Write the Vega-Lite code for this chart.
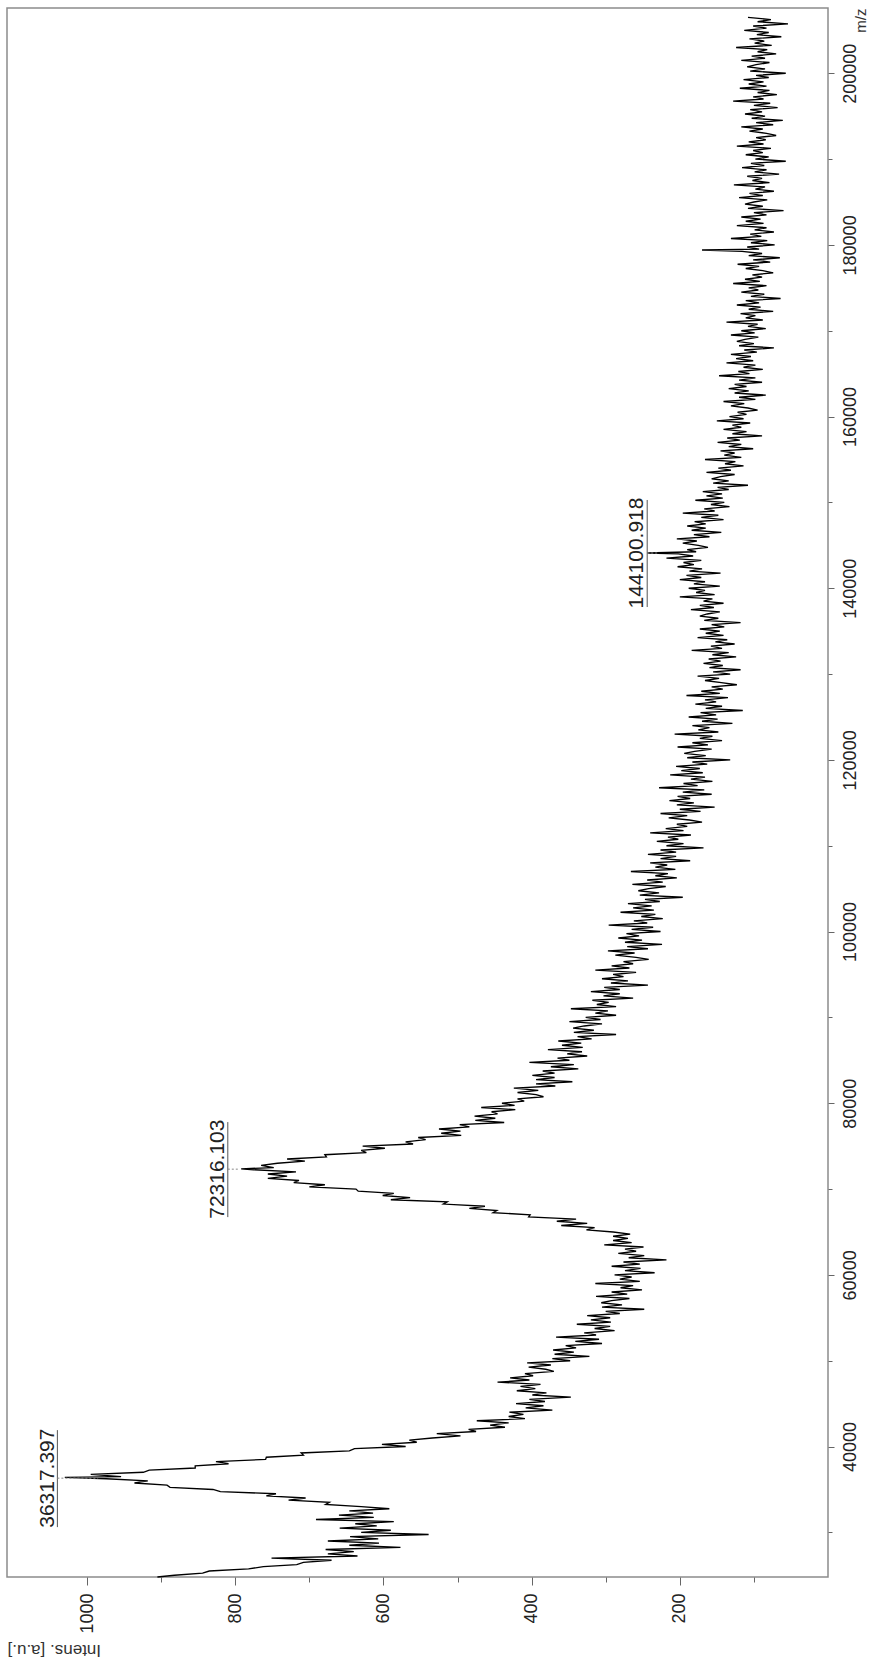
{
"$schema": "https://vega.github.io/schema/vega-lite/v6.json",
"width": 821,
"height": 1569,
"autosize": {"type": "none"},
"padding": {"left": 7, "top": 8, "right": 43, "bottom": 87},
"background": "white",
"config": {"view": {"stroke": "#8c8c8c", "strokeWidth": 1.5}, "font": "Liberation Sans"},
"datasets": {
"spec": [
{"m":24800,"i":905},{"m":25000,"i":882},{"m":25250,"i":844},{"m":25500,"i":835},{"m":25750,"i":782},{"m":26000,"i":762},{"m":26250,"i":717},{"m":26500,"i":708},{"m":26750,"i":670},{"m":27000,"i":751},{"m":27250,"i":635},{"m":27500,"i":675},{"m":27750,"i":640},{"m":28000,"i":678},{"m":28250,"i":577},{"m":28500,"i":646},{"m":28750,"i":606},{"m":29000,"i":675},{"m":29250,"i":607},{"m":29500,"i":645},{"m":29750,"i":539},{"m":30000,"i":630},{"m":30250,"i":590},{"m":30500,"i":659},{"m":30750,"i":609},{"m":31000,"i":638},{"m":31250,"i":586},{"m":31500,"i":691},{"m":31750,"i":613},{"m":32000,"i":660},{"m":32250,"i":614},{"m":32500,"i":646},{"m":32750,"i":592},
{"m":33000,"i":630},{"m":33250,"i":678},{"m":33500,"i":673},{"m":33750,"i":728},{"m":34000,"i":705},{"m":34250,"i":758},{"m":34500,"i":745},{"m":34750,"i":820},{"m":35000,"i":830},{"m":35250,"i":888},{"m":35500,"i":892},{"m":35750,"i":936},{"m":36000,"i":918},{"m":36250,"i":974},{"m":36400,"i":1030},{"m":36500,"i":954},{"m":36750,"i":995},{"m":37000,"i":924},{"m":37250,"i":916},{"m":37500,"i":854},{"m":37750,"i":854},{"m":38000,"i":809},{"m":38250,"i":826},{"m":38500,"i":759},{"m":38750,"i":758},{"m":39000,"i":708},{"m":39250,"i":711},{"m":39500,"i":646},{"m":39750,"i":639},{"m":40000,"i":570},{"m":40250,"i":602},{"m":40500,"i":555},{"m":40750,"i":565},
{"m":41000,"i":534},{"m":41250,"i":496},{"m":41500,"i":528},{"m":41750,"i":475},{"m":42000,"i":485},{"m":42250,"i":436},{"m":42500,"i":456},{"m":42750,"i":431},{"m":43000,"i":474},{"m":43250,"i":409},{"m":43500,"i":431},{"m":43750,"i":411},{"m":44000,"i":430},{"m":44250,"i":372},{"m":44500,"i":408},{"m":44750,"i":384},{"m":45000,"i":421},{"m":45250,"i":382},{"m":45500,"i":403},{"m":45750,"i":347},{"m":46000,"i":399},{"m":46250,"i":380},{"m":46500,"i":420},{"m":46750,"i":395},{"m":47000,"i":415},{"m":47250,"i":388},{"m":47500,"i":446},{"m":47750,"i":403},{"m":48000,"i":429},{"m":48250,"i":398},{"m":48500,"i":409},{"m":48750,"i":370},
{"m":49000,"i":381},{"m":49250,"i":404},{"m":49500,"i":374},{"m":49750,"i":406},{"m":50000,"i":348},{"m":50250,"i":372},{"m":50500,"i":322},{"m":50750,"i":369},{"m":51000,"i":343},{"m":51250,"i":371},{"m":51500,"i":340},{"m":51750,"i":354},{"m":52000,"i":305},{"m":52250,"i":341},{"m":52500,"i":309},{"m":52750,"i":367},{"m":53000,"i":313},{"m":53250,"i":329},{"m":53500,"i":288},{"m":53750,"i":315},{"m":54000,"i":294},{"m":54250,"i":339},{"m":54500,"i":293},{"m":54750,"i":320},{"m":55000,"i":294},{"m":55250,"i":325},{"m":55500,"i":281},{"m":55750,"i":300},{"m":56000,"i":248},{"m":56250,"i":305},{"m":56500,"i":278},{"m":56750,"i":306},
{"m":57000,"i":292},{"m":57250,"i":268},{"m":57500,"i":313},{"m":57750,"i":271},{"m":58000,"i":292},{"m":58250,"i":251},{"m":58500,"i":280},{"m":58750,"i":263},{"m":59000,"i":314},{"m":59250,"i":254},{"m":59500,"i":281},{"m":59750,"i":265},{"m":60000,"i":288},{"m":60250,"i":234},{"m":60500,"i":274},{"m":60750,"i":253},{"m":61000,"i":292},{"m":61250,"i":254},{"m":61500,"i":276},{"m":61750,"i":218},{"m":62000,"i":269},{"m":62250,"i":248},{"m":62500,"i":283},{"m":62750,"i":259},{"m":63000,"i":274},{"m":63250,"i":249},{"m":63500,"i":302},{"m":63750,"i":265},{"m":64000,"i":290},{"m":64250,"i":270},{"m":64500,"i":290},{"m":64750,"i":267},
{"m":65000,"i":290},{"m":65250,"i":326},{"m":65500,"i":315},{"m":65750,"i":360},{"m":66000,"i":325},{"m":66250,"i":366},{"m":66500,"i":340},{"m":66750,"i":404},{"m":67000,"i":402},{"m":67250,"i":452},{"m":67500,"i":447},{"m":67750,"i":484},{"m":68000,"i":463},{"m":68250,"i":519},{"m":68500,"i":514},{"m":68750,"i":590},{"m":69000,"i":564},{"m":69250,"i":601},{"m":69500,"i":586},{"m":69750,"i":634},{"m":70000,"i":637},{"m":70250,"i":700},{"m":70500,"i":679},{"m":70750,"i":721},{"m":71000,"i":714},{"m":71250,"i":756},{"m":71500,"i":730},{"m":71750,"i":756},{"m":72000,"i":718},{"m":72250,"i":775},{"m":72350,"i":792},{"m":72500,"i":748},{"m":72750,"i":765},
{"m":73000,"i":743},{"m":73250,"i":706},{"m":73500,"i":730},{"m":73750,"i":677},{"m":74000,"i":679},{"m":74250,"i":623},{"m":74500,"i":630},{"m":74750,"i":598},{"m":75000,"i":628},{"m":75250,"i":560},{"m":75500,"i":570},{"m":75750,"i":543},{"m":76000,"i":553},{"m":76250,"i":495},{"m":76500,"i":522},{"m":76750,"i":496},{"m":77000,"i":525},{"m":77250,"i":484},{"m":77500,"i":497},{"m":77750,"i":437},{"m":78000,"i":476},{"m":78250,"i":449},{"m":78500,"i":477},{"m":78750,"i":446},{"m":79000,"i":454},{"m":79250,"i":422},{"m":79500,"i":468},{"m":79750,"i":423},{"m":80000,"i":440},{"m":80250,"i":410},{"m":80500,"i":419},{"m":80750,"i":384},
{"m":81000,"i":394},{"m":81250,"i":419},{"m":81500,"i":391},{"m":81750,"i":424},{"m":82000,"i":368},{"m":82250,"i":394},{"m":82500,"i":345},{"m":82750,"i":394},{"m":83000,"i":369},{"m":83250,"i":399},{"m":83500,"i":369},{"m":83750,"i":385},{"m":84000,"i":337},{"m":84250,"i":374},{"m":84500,"i":343},{"m":84750,"i":403},{"m":85000,"i":349},{"m":85250,"i":365},{"m":85500,"i":325},{"m":85750,"i":352},{"m":86000,"i":332},{"m":86250,"i":378},{"m":86500,"i":331},{"m":86750,"i":359},{"m":87000,"i":333},{"m":87250,"i":364},{"m":87500,"i":319},{"m":87750,"i":338},{"m":88000,"i":286},{"m":88250,"i":343},{"m":88500,"i":316},{"m":88750,"i":344},
{"m":89000,"i":329},{"m":89250,"i":305},{"m":89500,"i":349},{"m":89750,"i":307},{"m":90000,"i":327},{"m":90250,"i":286},{"m":90500,"i":314},{"m":90750,"i":297},{"m":91000,"i":347},{"m":91250,"i":286},{"m":91500,"i":312},{"m":91750,"i":296},{"m":92000,"i":318},{"m":92250,"i":263},{"m":92500,"i":303},{"m":92750,"i":281},{"m":93000,"i":320},{"m":93250,"i":281},{"m":93500,"i":302},{"m":93750,"i":243},{"m":94000,"i":293},{"m":94250,"i":270},{"m":94500,"i":305},{"m":94750,"i":276},{"m":95000,"i":290},{"m":95250,"i":259},{"m":95500,"i":314},{"m":95750,"i":268},{"m":96000,"i":292},{"m":96250,"i":263},{"m":96500,"i":276},{"m":96750,"i":242},
{"m":97000,"i":259},{"m":97250,"i":287},{"m":97500,"i":261},{"m":97750,"i":297},{"m":98000,"i":243},{"m":98250,"i":271},{"m":98500,"i":224},{"m":98750,"i":274},{"m":99000,"i":251},{"m":99250,"i":283},{"m":99500,"i":255},{"m":99750,"i":272},{"m":100000,"i":226},{"m":100250,"i":265},{"m":100500,"i":236},{"m":100750,"i":296},{"m":101000,"i":244},{"m":101250,"i":262},{"m":101500,"i":223},{"m":101750,"i":252},{"m":102000,"i":233},{"m":102250,"i":280},{"m":102500,"i":235},{"m":102750,"i":263},{"m":103000,"i":238},{"m":103250,"i":270},{"m":103500,"i":227},{"m":103750,"i":247},{"m":104000,"i":196},{"m":104250,"i":254},{"m":104500,"i":228},{"m":104750,"i":256},
{"m":105000,"i":242},{"m":105250,"i":219},{"m":105500,"i":264},{"m":105750,"i":223},{"m":106000,"i":244},{"m":106250,"i":204},{"m":106500,"i":233},{"m":106750,"i":216},{"m":107000,"i":266},{"m":107250,"i":206},{"m":107500,"i":233},{"m":107750,"i":217},{"m":108000,"i":240},{"m":108250,"i":186},{"m":108500,"i":226},{"m":108750,"i":205},{"m":109000,"i":243},{"m":109250,"i":205},{"m":109500,"i":226},{"m":109750,"i":168},{"m":110000,"i":218},{"m":110250,"i":195},{"m":110500,"i":231},{"m":110750,"i":202},{"m":111000,"i":216},{"m":111250,"i":185},{"m":111500,"i":240},{"m":111750,"i":195},{"m":112000,"i":219},{"m":112250,"i":190},{"m":112500,"i":204},{"m":112750,"i":170},
{"m":113000,"i":187},{"m":113250,"i":215},{"m":113500,"i":190},{"m":113750,"i":226},{"m":114000,"i":172},{"m":114250,"i":200},{"m":114500,"i":153},{"m":114750,"i":204},{"m":115000,"i":181},{"m":115250,"i":214},{"m":115500,"i":186},{"m":115750,"i":203},{"m":116000,"i":157},{"m":116250,"i":196},{"m":116500,"i":167},{"m":116750,"i":228},{"m":117000,"i":176},{"m":117250,"i":195},{"m":117500,"i":156},{"m":117750,"i":185},{"m":118000,"i":166},{"m":118250,"i":213},{"m":118500,"i":169},{"m":118750,"i":198},{"m":119000,"i":173},{"m":119250,"i":205},{"m":119500,"i":163},{"m":119750,"i":183},{"m":120000,"i":132},{"m":120250,"i":190},{"m":120500,"i":165},{"m":120750,"i":194},
{"m":121000,"i":180},{"m":121250,"i":157},{"m":121500,"i":203},{"m":121750,"i":162},{"m":122000,"i":183},{"m":122250,"i":143},{"m":122500,"i":173},{"m":122750,"i":156},{"m":123000,"i":207},{"m":123250,"i":148},{"m":123500,"i":175},{"m":123750,"i":160},{"m":124000,"i":183},{"m":124250,"i":129},{"m":124500,"i":170},{"m":124750,"i":149},{"m":125000,"i":188},{"m":125250,"i":151},{"m":125500,"i":172},{"m":125750,"i":115},{"m":126000,"i":165},{"m":126250,"i":143},{"m":126500,"i":179},{"m":126750,"i":151},{"m":127000,"i":166},{"m":127250,"i":135},{"m":127500,"i":191},{"m":127750,"i":146},{"m":128000,"i":171},{"m":128250,"i":142},{"m":128500,"i":157},{"m":128750,"i":123},
{"m":129000,"i":144},{"m":129250,"i":166},{"m":129500,"i":147},{"m":129750,"i":176},{"m":130000,"i":132},{"m":130250,"i":155},{"m":130500,"i":118},{"m":130750,"i":160},{"m":131000,"i":142},{"m":131250,"i":168},{"m":131500,"i":145},{"m":131750,"i":161},{"m":132000,"i":124},{"m":132250,"i":156},{"m":132500,"i":134},{"m":132750,"i":184},{"m":133000,"i":143},{"m":133250,"i":158},{"m":133500,"i":126},{"m":133750,"i":152},{"m":134000,"i":136},{"m":134250,"i":176},{"m":134500,"i":141},{"m":134750,"i":165},{"m":135000,"i":146},{"m":135250,"i":173},{"m":135500,"i":140},{"m":135750,"i":157},{"m":136000,"i":118},{"m":136250,"i":167},{"m":136500,"i":148},{"m":136750,"i":173},
{"m":137000,"i":163},{"m":137250,"i":146},{"m":137500,"i":185},{"m":137750,"i":154},{"m":138000,"i":173},{"m":138250,"i":141},{"m":138500,"i":168},{"m":138750,"i":156},{"m":139000,"i":200},{"m":139250,"i":153},{"m":139500,"i":178},{"m":139750,"i":166},{"m":140000,"i":188},{"m":140250,"i":146},{"m":140500,"i":181},{"m":140750,"i":166},{"m":141000,"i":200},{"m":141250,"i":171},{"m":141500,"i":191},{"m":141750,"i":145},{"m":142000,"i":187},{"m":142250,"i":170},{"m":142500,"i":203},{"m":142750,"i":181},{"m":143000,"i":195},{"m":143250,"i":171},{"m":143500,"i":218},{"m":143750,"i":182},{"m":144000,"i":202},{"m":144100,"i":244},{"m":144250,"i":178},{"m":144500,"i":190},{"m":144750,"i":162},
{"m":145000,"i":175},{"m":145250,"i":196},{"m":145500,"i":177},{"m":145750,"i":204},{"m":146000,"i":160},{"m":146250,"i":181},{"m":146500,"i":144},{"m":146750,"i":184},{"m":147000,"i":165},{"m":147250,"i":190},{"m":147500,"i":165},{"m":147750,"i":180},{"m":148000,"i":141},{"m":148250,"i":171},{"m":148500,"i":148},{"m":148750,"i":196},{"m":149000,"i":153},{"m":149250,"i":167},{"m":149500,"i":133},{"m":149750,"i":158},{"m":150000,"i":140},{"m":150250,"i":179},{"m":150500,"i":142},{"m":150750,"i":164},{"m":151000,"i":143},{"m":151250,"i":169},{"m":151500,"i":134},{"m":151750,"i":149},{"m":152000,"i":108},{"m":152250,"i":155},{"m":152500,"i":134},{"m":152750,"i":157},
{"m":153000,"i":145},{"m":153250,"i":126},{"m":153500,"i":164},{"m":153750,"i":131},{"m":154000,"i":148},{"m":154250,"i":114},{"m":154500,"i":139},{"m":154750,"i":125},{"m":155000,"i":166},{"m":155250,"i":117},{"m":155500,"i":140},{"m":155750,"i":126},{"m":156000,"i":145},{"m":156250,"i":101},{"m":156500,"i":134},{"m":156750,"i":117},{"m":157000,"i":149},{"m":157250,"i":119},{"m":157500,"i":136},{"m":157750,"i":89},{"m":158000,"i":129},{"m":158250,"i":110},{"m":158500,"i":141},{"m":158750,"i":117},{"m":159000,"i":129},{"m":159250,"i":105},{"m":159500,"i":150},{"m":159750,"i":114},{"m":160000,"i":133},{"m":160250,"i":110},{"m":160500,"i":122},{"m":160750,"i":95},
{"m":161000,"i":108},{"m":161250,"i":131},{"m":161500,"i":113},{"m":161750,"i":141},{"m":162000,"i":98},{"m":162250,"i":120},{"m":162500,"i":84},{"m":162750,"i":126},{"m":163000,"i":107},{"m":163250,"i":134},{"m":163500,"i":110},{"m":163750,"i":126},{"m":164000,"i":89},{"m":164250,"i":120},{"m":164500,"i":98},{"m":164750,"i":147},{"m":165000,"i":106},{"m":165250,"i":121},{"m":165500,"i":88},{"m":165750,"i":114},{"m":166000,"i":98},{"m":166250,"i":137},{"m":166500,"i":101},{"m":166750,"i":124},{"m":167000,"i":104},{"m":167250,"i":131},{"m":167500,"i":96},{"m":167750,"i":113},{"m":168000,"i":73},{"m":168250,"i":120},{"m":168500,"i":100},{"m":168750,"i":123},
{"m":169000,"i":112},{"m":169250,"i":94},{"m":169500,"i":131},{"m":169750,"i":99},{"m":170000,"i":117},{"m":170250,"i":84},{"m":170500,"i":108},{"m":170750,"i":95},{"m":171000,"i":137},{"m":171250,"i":88},{"m":171500,"i":111},{"m":171750,"i":98},{"m":172000,"i":118},{"m":172250,"i":74},{"m":172500,"i":107},{"m":172750,"i":91},{"m":173000,"i":123},{"m":173250,"i":93},{"m":173500,"i":111},{"m":173750,"i":64},{"m":174000,"i":104},{"m":174250,"i":86},{"m":174500,"i":117},{"m":174750,"i":94},{"m":175000,"i":107},{"m":175250,"i":83},{"m":175500,"i":128},{"m":175750,"i":92},{"m":176000,"i":112},{"m":176250,"i":89},{"m":176500,"i":102},{"m":176750,"i":74},
{"m":177000,"i":88},{"m":177250,"i":111},{"m":177500,"i":93},{"m":177750,"i":122},{"m":178000,"i":78},{"m":178250,"i":101},{"m":178500,"i":65},{"m":178750,"i":107},{"m":179000,"i":89},{"m":179250,"i":116},{"m":179400,"i":170},{"m":179500,"i":93},{"m":179750,"i":109},{"m":180000,"i":72},{"m":180250,"i":104},{"m":180500,"i":82},{"m":180750,"i":131},{"m":181000,"i":90},{"m":181250,"i":105},{"m":181500,"i":73},{"m":181750,"i":99},{"m":182000,"i":83},{"m":182250,"i":123},{"m":182500,"i":87},{"m":182750,"i":111},{"m":183000,"i":91},{"m":183250,"i":117},{"m":183500,"i":83},{"m":183750,"i":100},{"m":184000,"i":60},{"m":184250,"i":108},{"m":184500,"i":88},{"m":184750,"i":112},
{"m":185000,"i":100},{"m":185250,"i":82},{"m":185500,"i":120},{"m":185750,"i":88},{"m":186000,"i":106},{"m":186250,"i":73},{"m":186500,"i":98},{"m":186750,"i":85},{"m":187000,"i":127},{"m":187250,"i":79},{"m":187500,"i":102},{"m":187750,"i":89},{"m":188000,"i":109},{"m":188250,"i":66},{"m":188500,"i":99},{"m":188750,"i":83},{"m":189000,"i":116},{"m":189250,"i":86},{"m":189500,"i":104},{"m":189750,"i":57},{"m":190000,"i":98},{"m":190250,"i":80},{"m":190500,"i":111},{"m":190750,"i":88},{"m":191000,"i":101},{"m":191250,"i":77},{"m":191500,"i":123},{"m":191750,"i":87},{"m":192000,"i":107},{"m":192250,"i":84},{"m":192500,"i":97},{"m":192750,"i":70},
{"m":193000,"i":83},{"m":193250,"i":106},{"m":193500,"i":88},{"m":193750,"i":117},{"m":194000,"i":74},{"m":194250,"i":97},{"m":194500,"i":61},{"m":194750,"i":103},{"m":195000,"i":85},{"m":195250,"i":112},{"m":195500,"i":89},{"m":195750,"i":105},{"m":196000,"i":68},{"m":196250,"i":100},{"m":196500,"i":78},{"m":196750,"i":128},{"m":197000,"i":87},{"m":197250,"i":101},{"m":197500,"i":69},{"m":197750,"i":95},{"m":198000,"i":79},{"m":198250,"i":119},{"m":198500,"i":83},{"m":198750,"i":107},{"m":199000,"i":87},{"m":199250,"i":114},{"m":199500,"i":80},{"m":199750,"i":97},{"m":200000,"i":57},{"m":200250,"i":105},{"m":200500,"i":85},{"m":200750,"i":109},
{"m":201000,"i":97},{"m":201250,"i":79},{"m":201500,"i":117},{"m":201750,"i":85},{"m":202000,"i":103},{"m":202250,"i":70},{"m":202500,"i":95},{"m":202750,"i":82},{"m":203000,"i":124},{"m":203250,"i":76},{"m":203500,"i":99},{"m":203750,"i":86},{"m":204000,"i":106},{"m":204250,"i":63},{"m":204500,"i":96},{"m":204750,"i":80},{"m":205000,"i":113},{"m":205250,"i":83},{"m":205500,"i":101},{"m":205750,"i":54},{"m":206000,"i":95},{"m":206250,"i":77},{"m":206500,"i":108}
],
"peaks": [
{"m":36317,"t":"36317.397","ti":1045,"ui":1040,"lo":30611,"hi":41913,"pk":985},
{"m":72316,"t":"72316.103","ti":815,"ui":810,"lo":66730,"hi":77800,"pk":795},
{"m":144100,"t":"144100.918","ti":250,"ui":244,"lo":137810,"hi":150280,"pk":228}
]
},
"layer": [
{
"data": {"name": "spec"},
"mark": {"type": "line", "color": "#000000", "strokeWidth": 1.35},
"encoding": {
"x": {"field": "i", "type": "quantitative", "title": "Intens. [a.u.]",
"scale": {"domain": [0, 1108], "reverse": true, "nice": false, "zero": false},
"axis": {"orient": "bottom", "values": [100,200,300,400,500,600,700,800,900,1000], "format": "d",
"labelExpr": "datum.value % 200 === 0 ? datum.label : ''",
"labelAngle": 270, "labelAlign": "right", "labelBaseline": "middle", "labelPadding": 8,
"labelFontSize": 18, "labelColor": "#222222", "labelFont": "Liberation Sans",
"tickColor": "#666666", "tickSize": {"condition": {"test": "datum.value % 200 !== 0", "value": 5}, "value": 8},
"domain": false, "grid": false,
"titleAngle": 180, "titleX": 0, "titleY": 72, "titleAlign": "right", "titleBaseline": "middle",
"titleFontSize": 17, "titleFontWeight": "normal", "titleColor": "#333333", "titleFont": "Liberation Sans"}},
"y": {"field": "m", "type": "quantitative", "title": "m/z",
"scale": {"domain": [24800, 207600], "nice": false, "zero": false},
"axis": {"orient": "right", "values": [30000,40000,50000,60000,70000,80000,90000,100000,110000,120000,130000,140000,150000,160000,170000,180000,190000,200000], "format": "d",
"labelExpr": "datum.value % 20000 === 0 ? datum.label : ''",
"labelAngle": 270, "labelAlign": "center", "labelBaseline": "top", "labelPadding": 7,
"labelFontSize": 18, "labelColor": "#222222", "labelFont": "Liberation Sans",
"tickColor": "#666666", "tickSize": {"condition": {"test": "datum.value % 20000 !== 0", "value": 4}, "value": 6},
"domain": false, "grid": false,
"titleAngle": 270, "titleX": 25, "titleY": 0, "titleAlign": "right", "titleBaseline": "top",
"titleFontSize": 15, "titleFontWeight": "normal", "titleColor": "#333333", "titleFont": "Liberation Sans"}},
"order": {"field": "m", "type": "quantitative"}
}
},
{
"data": {"name": "peaks"},
"mark": {"type": "rule", "color": "#555555", "strokeWidth": 1},
"encoding": {
"x": {"field": "ui", "type": "quantitative", "title": "Intens. [a.u.]"},
"y": {"field": "lo", "type": "quantitative", "title": "m/z"},
"y2": {"field": "hi"}
}
},
{
"data": {"name": "peaks"},
"mark": {"type": "rule", "color": "#888888", "strokeWidth": 1, "strokeDash": [2, 2]},
"encoding": {
"x": {"field": "ui", "type": "quantitative", "title": "Intens. [a.u.]"},
"x2": {"field": "pk"},
"y": {"field": "m", "type": "quantitative", "title": "m/z"}
}
},
{
"data": {"name": "peaks"},
"mark": {"type": "text", "angle": 270, "align": "center", "baseline": "alphabetic", "fontSize": 21, "font": "Liberation Sans", "color": "#222222"},
"encoding": {
"x": {"field": "ti", "type": "quantitative", "title": "Intens. [a.u.]"},
"y": {"field": "m", "type": "quantitative", "title": "m/z"},
"text": {"field": "t"}
}
}
]
}
